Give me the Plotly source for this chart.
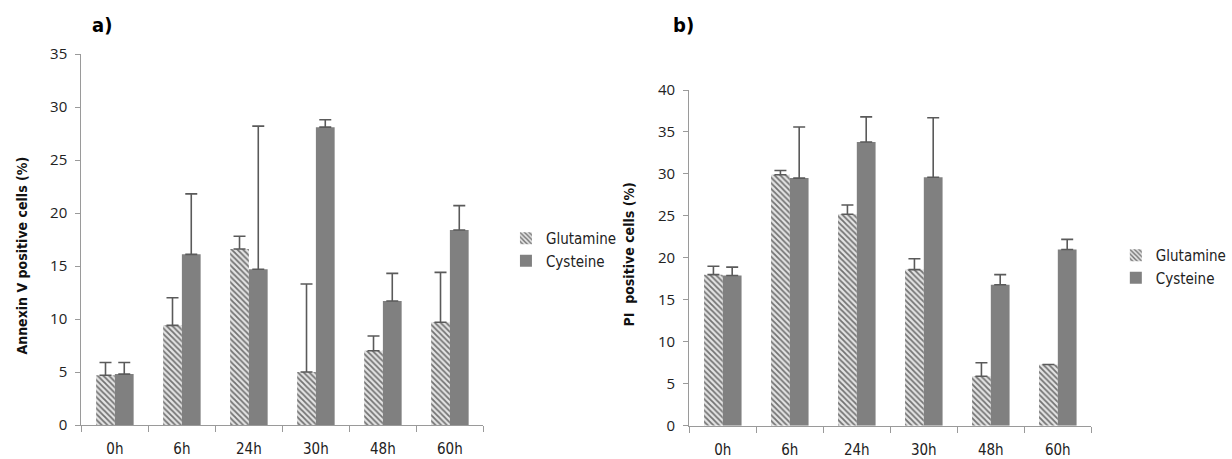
import plotly.graph_objects as go

categories = ["0h", "6h", "24h", "30h", "48h", "60h"]

# Panel a) Annexin V positive cells (%)
annexin_glutamine = [4.7, 9.4, 16.6, 5.0, 7.0, 9.7]
annexin_glutamine_err = [1.2, 2.6, 1.2, 8.3, 1.4, 4.7]
annexin_cysteine = [4.8, 16.1, 14.7, 28.1, 11.7, 18.4]
annexin_cysteine_err = [1.1, 5.7, 13.5, 0.7, 2.6, 2.3]

# Panel b) PI positive cells (%)
pi_glutamine = [18.0, 29.9, 25.2, 18.6, 5.9, 7.3]
pi_glutamine_err = [1.0, 0.5, 1.1, 1.3, 1.6, 0.0]
pi_cysteine = [17.9, 29.5, 33.8, 29.6, 16.8, 21.0]
pi_cysteine_err = [1.0, 6.1, 3.0, 7.1, 1.2, 1.2]

W, H = 1232, 459
CYS_COLOR = "#808080"
GLU_BG = "#e4e4e4"
ERR_COLOR = "#5a5a5a"
AXIS_COLOR = "#9a9a9a"
NARROW = "Liberation Sans Narrow, Arial Narrow, DejaVu Sans Condensed, Liberation Sans, sans-serif"
TICKFONT = "Open Sans, Liberation Sans, sans-serif"

fig = go.Figure()


def err(vals):
    return dict(type="data", array=vals, arrayminus=[0] * len(vals), symmetric=False,
                color=ERR_COLOR, thickness=1.6, width=6)


def add_panel(glu, glu_e, cys, cys_e, xa, ya, legend):
    fig.add_trace(go.Bar(
        x=categories, y=glu, name="Glutamine", xaxis=xa, yaxis=ya, legend=legend,
        marker=dict(color=GLU_BG, line=dict(width=0),
                    pattern=dict(shape="\\", fgcolor="#000000", bgcolor=GLU_BG,
                                 size=4, solidity=0.45, fillmode="overlay")),
        error_y=err(glu_e),
    ))
    fig.add_trace(go.Bar(
        x=categories, y=cys, name="Cysteine", xaxis=xa, yaxis=ya, legend=legend,
        marker=dict(color=CYS_COLOR, line=dict(width=0)),
        error_y=err(cys_e),
    ))


add_panel(annexin_glutamine, annexin_glutamine_err, annexin_cysteine, annexin_cysteine_err,
          "x", "y", "legend")
add_panel(pi_glutamine, pi_glutamine_err, pi_cysteine, pi_cysteine_err,
          "x2", "y2", "legend2")


def px_x(p):
    return p / W


def px_y(p):
    return 1 - p / H


xaxis_common = dict(
    type="category", showline=True, linecolor=AXIS_COLOR, linewidth=1.3,
    ticks="outside", tickson="boundaries", ticklen=6, tickcolor=AXIS_COLOR,
    tickfont=dict(family=NARROW, size=15, color="#222"), showgrid=False,
    zeroline=False, fixedrange=True, automargin=False, ticklabelstandoff=10,
)
yaxis_common = dict(
    showline=True, linecolor=AXIS_COLOR, linewidth=1.3, ticks="outside", ticklen=5,
    tickcolor=AXIS_COLOR, tickfont=dict(family=TICKFONT, size=15, color="#222"),
    showgrid=False, zeroline=False, dtick=5, automargin=False, ticklabelstandoff=5,
)

title_font = dict(family=NARROW, size=14, color="#111")


def note(text, x, y, size, angle=0, color="#000"):
    return dict(text=text, textangle=angle, x=px_x(x), y=px_y(y), xref="paper", yref="paper",
                xanchor="center", yanchor="middle", showarrow=False,
                font=dict(family=NARROW, size=size, color=color))


fig.update_layout(
    width=W, height=H,
    margin=dict(l=0, r=0, t=0, b=0),
    paper_bgcolor="white", plot_bgcolor="white",
    barmode="group", bargap=0.44, bargroupgap=0,
    xaxis=dict(domain=[px_x(83), px_x(493)], anchor="y", **xaxis_common),
    yaxis=dict(domain=[px_y(425), px_y(54)], range=[0, 35], anchor="x", **yaxis_common),
    xaxis2=dict(domain=[px_x(703), px_x(1113)], anchor="y2", **xaxis_common),
    yaxis2=dict(domain=[px_y(425.7), px_y(90)], range=[0, 40], anchor="x2", **yaxis_common),
    legend=dict(x=px_x(516), y=px_y(222), xanchor="left", yanchor="top",
                font=dict(family=NARROW, size=15, color="#222"), itemwidth=30,
                bgcolor="rgba(0,0,0,0)"),
    legend2=dict(x=px_x(1138), y=px_y(239), xanchor="left", yanchor="top",
                 font=dict(family=NARROW, size=15, color="#222"), itemwidth=30,
                 bgcolor="rgba(0,0,0,0)"),
    annotations=[
        note("<b>a)</b>", 104, 25, 20),
        note("<b>b)</b>", 697, 25, 20),
        note("<b>Annexin V positive cells (%)</b>", 22, 256, 14, -90, "#111"),
        note("<b>PI  positive cells (%)</b>", 642, 254, 14, -90, "#111"),
    ],
)

fig.write_html("out.html")
